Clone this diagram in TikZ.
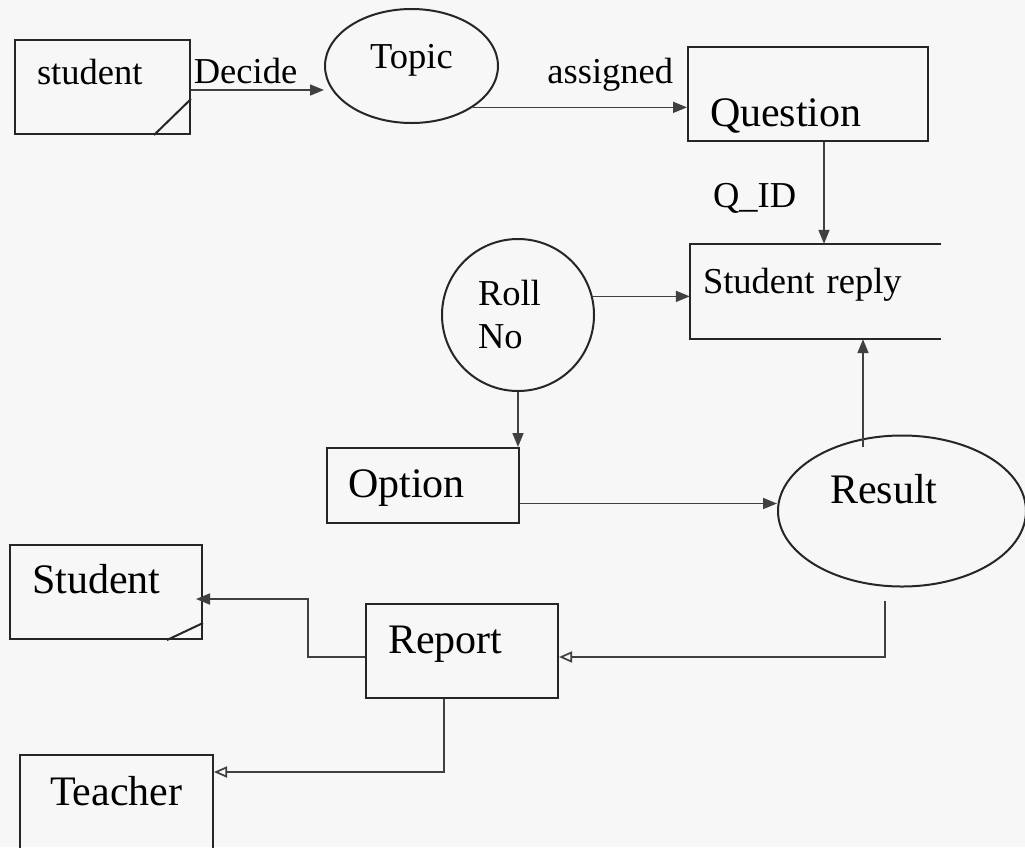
\documentclass[tikz,border=0pt]{standalone}
\usepackage{fontspec}
\setmainfont{Liberation Serif}
\usepackage{tikz}
\usetikzlibrary{arrows.meta,shapes.geometric,calc}
\def\smalltxt{\fontsize{36.5}{43}\selectfont}
\def\bigtxt{\fontsize{42}{48}\selectfont}
\tikzset{
	box/.style={draw=black!85, line width=2pt, rectangle, inner sep=0pt, align=left},
	store/.style={rectangle, inner sep=0pt, align=left},
	oval/.style={draw=black!85, line width=2pt, ellipse, inner sep=0pt},
	flow/.style={-{Triangle[length=14pt,width=11pt]}, line width=1.7pt, draw=black!75},
	hollowflow/.style={-{Triangle[open,length=13pt,width=11pt]}, line width=1.7pt, draw=black!75},
	edge/.style={line width=2pt, draw=black!85}
}

\begin{document}
\begin{tikzpicture}[x=1pt, y=-1pt]
			%%%%% START %%%%%
			
			\useasboundingbox[fill=black!3] (0, 0) rectangle (1025, 847);
			
			\node[box, text width=175pt, text height=44pt, text depth=50pt, font=\smalltxt] (stud) at (102.5, 87) {\hspace*{22pt}student};
			\draw[edge] ([xshift=-37pt]stud.south east) -- ([yshift=36pt]stud.south east);
			
			\node[oval, minimum width=173pt, minimum height=114pt, text height=25pt, text depth=21pt, font=\smalltxt] (topic) at (411.5, 66) {Topic};
			
			\node[box, text width=240pt, text height=79pt, text depth=15pt, font=\bigtxt] (quest) at (808, 94) {\hspace*{22pt}Question};
			
			\node[store, text width=251pt, text height=49pt, text depth=46pt, font=\smalltxt] (reply) at (815.5, 291.5) {\hspace*{13pt}Student reply};
			\draw[edge] (reply.north east) -- (reply.north west) -- (reply.south west) -- (reply.south east);
			
			\node[oval, circle, minimum size=152pt, text width=80pt, align=left, font=\smalltxt] (roll) at (518, 315) {Roll\\No};
			
			\node[box, text width=192pt, text height=49pt, text depth=26pt, font=\bigtxt] (opt) at (423, 485.5) {\hspace*{21pt}Option};
			
			\node[oval, minimum width=248pt, minimum height=151pt, text width=144pt, align=left, text height=28pt, text depth=44pt, font=\bigtxt] (res) at (902, 511) {Result};
			
			\node[box, text width=192pt, text height=49pt, text depth=45pt, font=\bigtxt] (rep) at (462, 651) {\hspace*{22pt}Report};
			
			\node[box, text width=192pt, text height=48pt, text depth=46pt, font=\bigtxt] (stud2) at (106, 592) {\hspace*{22pt}Student};
			\draw[edge] ([xshift=-36pt]stud2.south east) -- ([yshift=17pt]stud2.south east);
			
			\node[box, text width=193pt, text height=50pt, text depth=65pt, font=\bigtxt] (teach) at (116.5, 812.5) {\hspace*{30pt}Teacher};
			
			% flows
			\draw[flow] ([yshift=-3pt]stud.east) -- ([yshift=-3pt]stud.east -| topic.west)
				node[pos=0, anchor=base west, yshift=7pt, inner sep=2pt, font=\smalltxt] (decide) {Decide};
			\draw[flow] (topic.-34) -- (topic.-34 -| quest.west)
				node[pos=1, anchor=base east, xshift=-13pt, yshift=24pt, inner sep=0pt, font=\smalltxt] (assigned) {assigned};
			\draw[flow] ([xshift=16pt]quest.south) -- ([xshift=16pt]quest.south |- reply.north)
				node[pos=0.64, anchor=base east, xshift=-27pt, inner sep=0pt, font=\smalltxt] (qid) {Q\_ID};
			\draw[flow] (roll.14) -- (roll.14 -| reply.west);
			\draw[flow] (roll.south) -- (roll.south |- opt.north);
			\draw[flow] ([yshift=-18pt]opt.east) -- ([yshift=-18pt]opt.east -| res.west);
			\draw[flow] ([xshift=-39pt, yshift=-12pt]res.north) -- ([xshift=-39pt]res.north |- reply.south);
			\draw[hollowflow] ([xshift=-17pt, yshift=-13pt]res.south) |- ([yshift=-6pt]rep.east);
			\draw[flow, shorten >=-7pt] ([yshift=-6pt]rep.west) -- ++(-57, 0) |- ([yshift=-7pt]stud2.east);
			\draw[hollowflow] ([xshift=-18pt]rep.south) |- ([yshift=-18pt]teach.north east);
			
			%%%%% END %%%%%
\end{tikzpicture}
\end{document}
